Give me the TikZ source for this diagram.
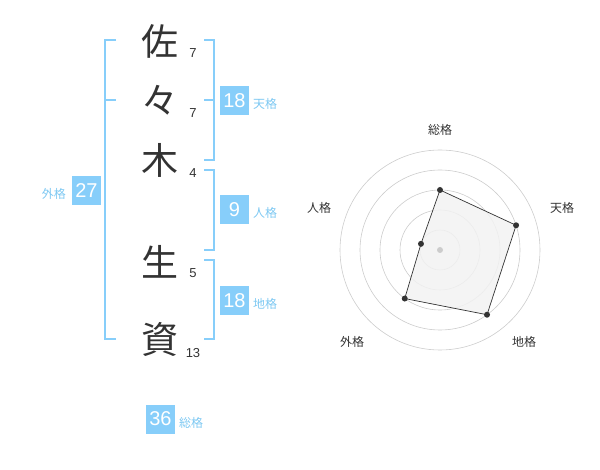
\documentclass[tikz,border=0pt]{standalone}
\usepackage{fontspec}
\usetikzlibrary{calc}
\setmainfont{Liberation Sans}
\newfontfamily\jp{Noto Sans CJK JP}
\definecolor{skyb}{HTML}{87CEFA}
\definecolor{skyt}{HTML}{7DC8F2}
\definecolor{ink}{HTML}{333333}
\definecolor{ring}{HTML}{CCCCCC}
\definecolor{fillg}{HTML}{F2F2F2}
\begin{document}
\begin{tikzpicture}[x=1pt,y=-1pt,
  kanji/.style={font=\jp\fontsize{37}{37}\selectfont,text=ink,inner sep=0pt},
  stroke/.style={font=\fontsize{13}{13}\selectfont,text=ink,inner sep=0pt},
  valbox/.style={fill=skyb,text=white,font=\fontsize{20}{20}\selectfont,minimum width=29pt,minimum height=29pt,inner sep=0pt},
  vallab/.style={font=\jp\fontsize{12}{12}\selectfont,text=skyt,inner sep=0pt},
  brk/.style={draw=skyb,line width=2pt},
  axlab/.style={font=\jp\fontsize{12}{12}\selectfont,text=ink,inner sep=0pt},
  dot/.style={circle,fill=ink,inner sep=0pt,minimum size=6pt}]
\useasboundingbox (0,0) rectangle (600,470);
% kanji
\node[kanji] (k1) at (160,41) {佐};
\node[kanji] (k2) at (160,100) {々};
\node[kanji] (k3) at (160,160) {木};
\node[kanji] (k4) at (160,262) {生};
\node[kanji] (k5) at (160,339) {資};
% strokes
\node[stroke] (s1) at (193,53) {7};
\node[stroke] (s2) at (193,113) {7};
\node[stroke] (s3) at (193,173) {4};
\node[stroke] (s4) at (193,273) {5};
\node[stroke] (s5) at (193,353) {13};
% brackets
\coordinate (La) at (116,40); \coordinate (Lb) at (105,40);
\coordinate (Lc) at (105,339); \coordinate (Ld) at (116,339);
\coordinate (Lm) at (105,100); \coordinate (Lme) at (116,100);
\draw[brk] (La) -- (Lb) -- (Lc) -- (Ld);
\draw[brk] (Lm) -- (Lme);
\coordinate (A1) at (204,40); \coordinate (A2) at (214,40);
\coordinate (A3) at (214,160); \coordinate (A4) at (204,160);
\coordinate (Am) at (214,100); \coordinate (Ame) at (204,100);
\draw[brk] (A1) -- (A2) -- (A3) -- (A4);
\draw[brk] (Am) -- (Ame);
\coordinate (B1) at (204,170); \coordinate (B2) at (214,170);
\coordinate (B3) at (214,250); \coordinate (B4) at (204,250);
\draw[brk] (B1) -- (B2) -- (B3) -- (B4);
\coordinate (C1) at (204,260); \coordinate (C2) at (214,260);
\coordinate (C3) at (214,339); \coordinate (C4) at (204,339);
\draw[brk] (C1) -- (C2) -- (C3) -- (C4);
% value boxes
\node[valbox] (ten) at (234.5,100.5) {18};
\node[vallab,anchor=west] (tenl) at (253,104) {天格};
\node[valbox] (jin) at (234.5,210) {9};
\node[vallab,anchor=west] (jinl) at (253,213) {人格};
\node[valbox] (chi) at (234.5,300.5) {18};
\node[vallab,anchor=west] (chil) at (253,304) {地格};
\node[valbox] (gai) at (86.5,190.5) {27};
\node[vallab,anchor=east] (gail) at (66,194) {外格};
\node[valbox] (sou) at (160.5,419) {36};
\node[vallab,anchor=west] (soul) at (179,423) {総格};
% radar
\coordinate (O) at (440,250);
\foreach \r in {20,40,60,80,100} \draw[ring,line width=0.6pt] (O) circle (\r);
\coordinate (P1) at ($(O)+(-90:60)$);
\coordinate (P2) at ($(O)+(-18:80)$);
\coordinate (P3) at ($(O)+(54:80)$);
\coordinate (P4) at ($(O)+(126:60)$);
\coordinate (P5) at ($(O)+(-162:20)$);
\draw[fill=fillg,fill opacity=0.85,draw=ink,line width=0.7pt] (P1) -- (P2) -- (P3) -- (P4) -- (P5) -- cycle;
\node[circle,fill=ring,inner sep=0pt,minimum size=6pt] (cen) at (O) {};
\foreach \p in {P1,P2,P3,P4,P5} \node[dot] at (\p) {};
\node[axlab] (l1) at (440,130) {総格};
\node[axlab] (l2) at (562,208) {天格};
\node[axlab] (l3) at (524,342) {地格};
\node[axlab] (l4) at (352,342) {外格};
\node[axlab] (l5) at (319,208) {人格};
\end{tikzpicture}
\end{document}
